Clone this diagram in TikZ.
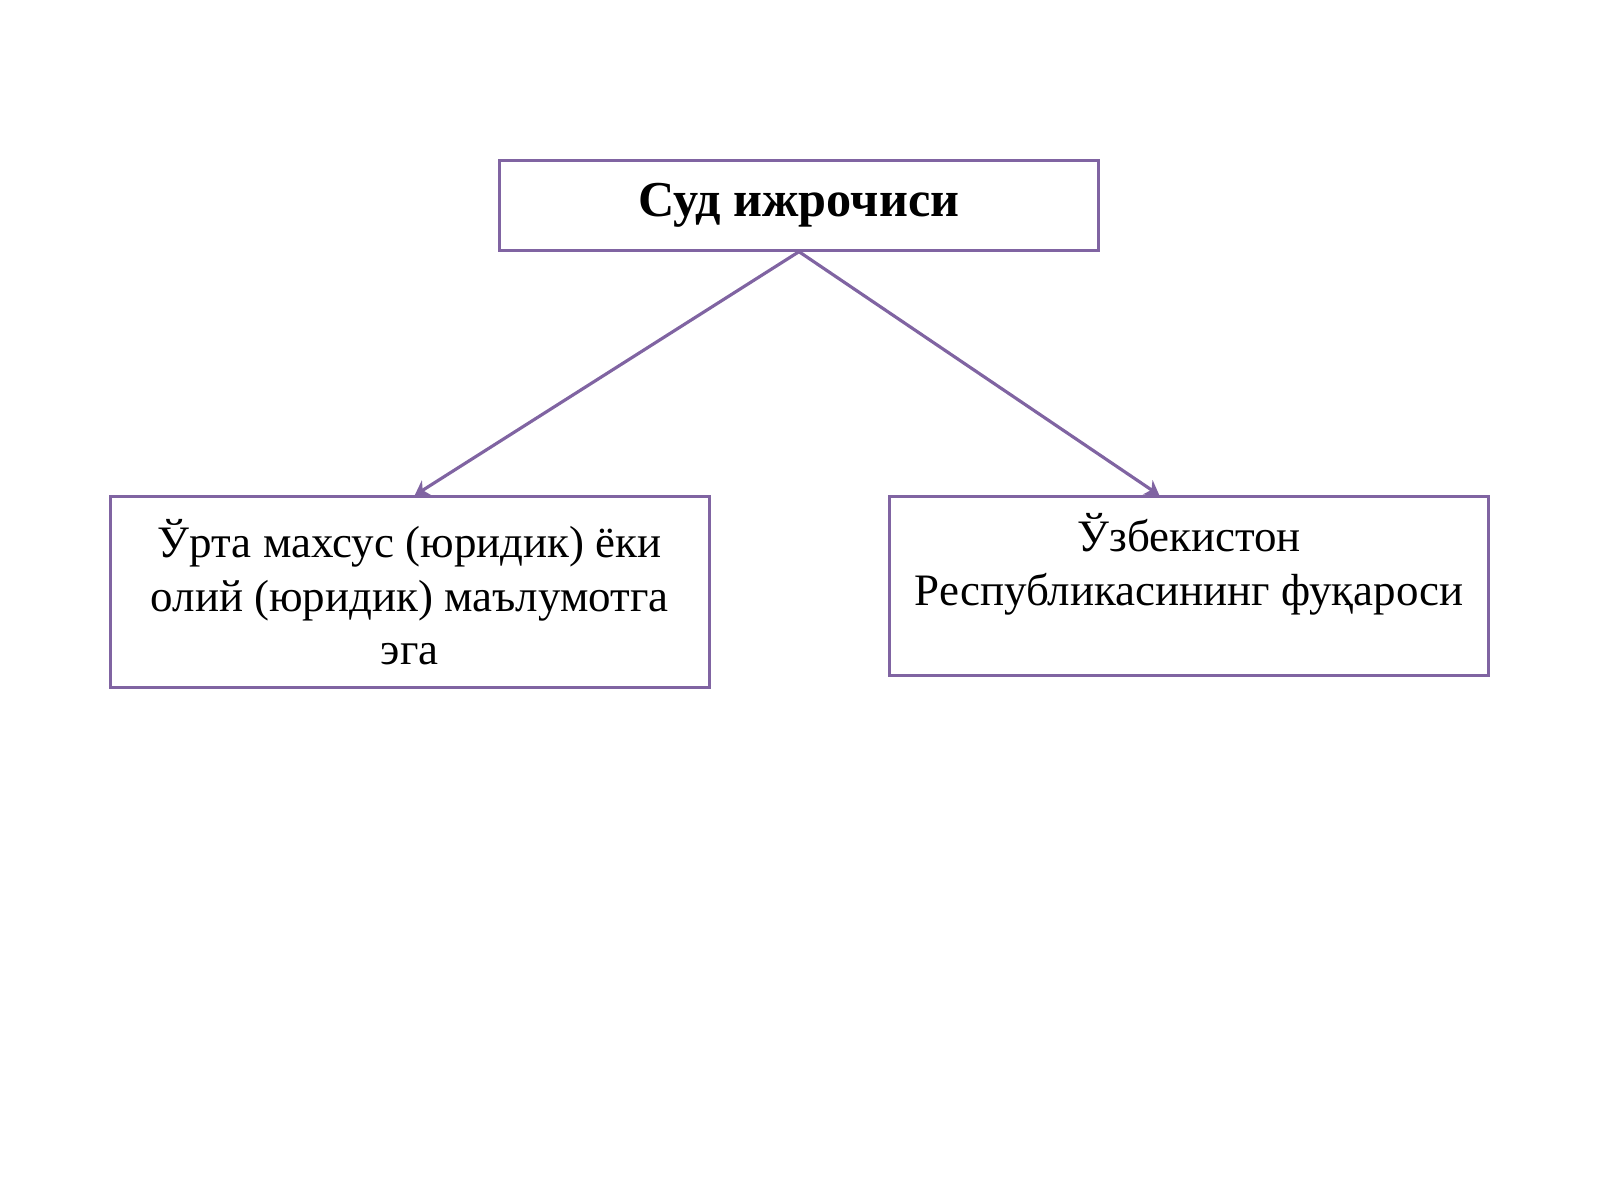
\documentclass[tikz,border=0pt]{standalone}
\usepackage{fontspec}
\setmainfont{Liberation Serif}
\usetikzlibrary{arrows.meta,positioning}
\definecolor{frame}{RGB}{128,100,162}
\begin{document}
\begin{tikzpicture}[x=0.010204cm,y=-0.010204cm,>={Stealth[length=4pt,width=5pt]},font=\fontsize{12.8}{15.3}\selectfont]
    % Define the style for the blocks
    \tikzset{block/.style={rectangle, draw=frame, line width=0.9pt, text centered, align=center, minimum width=5.99cm, inner sep=2pt}}
    \useasboundingbox (0,0) rectangle (1568,1176);

    % Nodes position
    \node [block, minimum height=0.9cm, font=\fontsize{14.3}{16}\selectfont\bfseries] (judge) at (783,201) {Суд ижрочиси};
    \node [block, minimum height=1.91cm] (education) at (401.5,580.5) {Ўрта махсус (юридик) ёки\\олий (юридик) маълумотга\\эга};
    \node [block, minimum height=1.79cm] (citizen) at (1165.5,574.5) {Ўзбекистон\\Республикасининг фуқароси\\\mbox{}};

    % Arrows
    \draw[->, frame, line width=0.9pt] (judge.south) -- ([xshift=0.05cm]education.north);
    \draw[->, frame, line width=0.9pt] (judge.south) -- ([xshift=-0.3cm]citizen.north);
\end{tikzpicture}
\end{document}
